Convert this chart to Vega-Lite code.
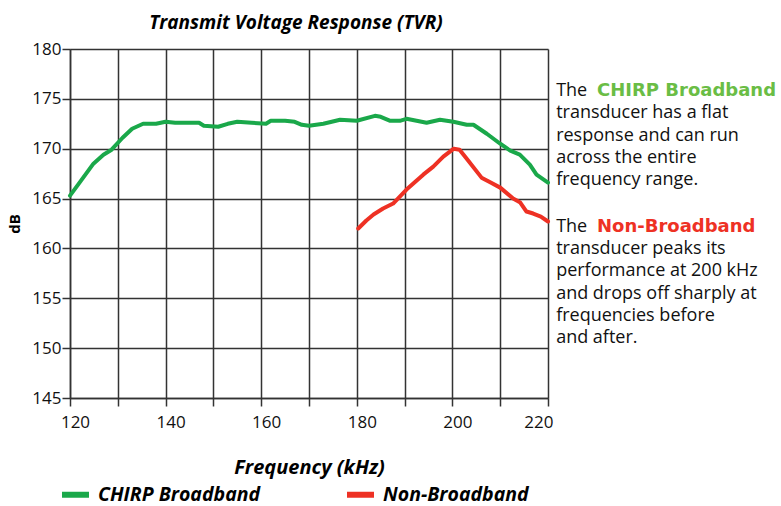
{
  "$schema": "https://vega.github.io/schema/vega-lite/v6.json",
  "width": 478,
  "height": 349,
  "autosize": {"type": "none"},
  "padding": {"left": 70, "top": 49, "right": 233, "bottom": 108},
  "background": "white",
  "config": {
    "font": "Open Sans",
    "view": {"stroke": null},
    "axis": {
      "gridColor": "#333333",
      "gridWidth": 1.5,
      "gridOpacity": 1,
      "domainColor": "#333333",
      "domainWidth": 1.5,
      "tickColor": "#333333",
      "tickWidth": 1.5,
      "tickSize": 8,
      "labelColor": "#111111",
      "labelFontSize": 17,
      "labelFont": "Open Sans",
      "titleColor": "#000000",
      "titleFont": "Open Sans"
    }
  },
  "title": {
    "text": "Transmit Voltage Response (TVR)",
    "fontSize": 19,
    "fontWeight": "bold",
    "fontStyle": "italic",
    "font": "Open Sans",
    "color": "#000000",
    "anchor": "middle",
    "offset": 7,
    "dx": -13
  },
  "datasets": {
    "curves": [
      {"f": 120, "db": 165.3, "series": "CHIRP Broadband"},
      {"f": 122, "db": 166.6, "series": "CHIRP Broadband"},
      {"f": 124.9, "db": 168.5, "series": "CHIRP Broadband"},
      {"f": 127, "db": 169.4, "series": "CHIRP Broadband"},
      {"f": 128.7, "db": 169.9, "series": "CHIRP Broadband"},
      {"f": 131, "db": 171.1, "series": "CHIRP Broadband"},
      {"f": 133, "db": 172.0, "series": "CHIRP Broadband"},
      {"f": 135.3, "db": 172.5, "series": "CHIRP Broadband"},
      {"f": 138, "db": 172.5, "series": "CHIRP Broadband"},
      {"f": 140, "db": 172.7, "series": "CHIRP Broadband"},
      {"f": 142, "db": 172.6, "series": "CHIRP Broadband"},
      {"f": 145, "db": 172.6, "series": "CHIRP Broadband"},
      {"f": 147, "db": 172.6, "series": "CHIRP Broadband"},
      {"f": 148, "db": 172.3, "series": "CHIRP Broadband"},
      {"f": 151, "db": 172.2, "series": "CHIRP Broadband"},
      {"f": 153, "db": 172.5, "series": "CHIRP Broadband"},
      {"f": 155, "db": 172.7, "series": "CHIRP Broadband"},
      {"f": 158, "db": 172.6, "series": "CHIRP Broadband"},
      {"f": 161, "db": 172.5, "series": "CHIRP Broadband"},
      {"f": 162, "db": 172.8, "series": "CHIRP Broadband"},
      {"f": 165, "db": 172.8, "series": "CHIRP Broadband"},
      {"f": 167, "db": 172.7, "series": "CHIRP Broadband"},
      {"f": 168.5, "db": 172.4, "series": "CHIRP Broadband"},
      {"f": 170, "db": 172.3, "series": "CHIRP Broadband"},
      {"f": 173, "db": 172.5, "series": "CHIRP Broadband"},
      {"f": 176.5, "db": 172.9, "series": "CHIRP Broadband"},
      {"f": 180, "db": 172.8, "series": "CHIRP Broadband"},
      {"f": 183.8, "db": 173.3, "series": "CHIRP Broadband"},
      {"f": 185, "db": 173.2, "series": "CHIRP Broadband"},
      {"f": 187, "db": 172.8, "series": "CHIRP Broadband"},
      {"f": 189, "db": 172.8, "series": "CHIRP Broadband"},
      {"f": 190.4, "db": 173.0, "series": "CHIRP Broadband"},
      {"f": 192.5, "db": 172.8, "series": "CHIRP Broadband"},
      {"f": 194.6, "db": 172.6, "series": "CHIRP Broadband"},
      {"f": 197.4, "db": 172.9, "series": "CHIRP Broadband"},
      {"f": 200.2, "db": 172.7, "series": "CHIRP Broadband"},
      {"f": 203, "db": 172.4, "series": "CHIRP Broadband"},
      {"f": 204.4, "db": 172.4, "series": "CHIRP Broadband"},
      {"f": 207.2, "db": 171.5, "series": "CHIRP Broadband"},
      {"f": 210, "db": 170.5, "series": "CHIRP Broadband"},
      {"f": 212.1, "db": 169.8, "series": "CHIRP Broadband"},
      {"f": 214.1, "db": 169.4, "series": "CHIRP Broadband"},
      {"f": 216.2, "db": 168.4, "series": "CHIRP Broadband"},
      {"f": 217.6, "db": 167.4, "series": "CHIRP Broadband"},
      {"f": 220, "db": 166.6, "series": "CHIRP Broadband"},
      {"f": 180.3, "db": 162.0, "series": "Non-Broadband"},
      {"f": 182, "db": 162.8, "series": "Non-Broadband"},
      {"f": 183.5, "db": 163.4, "series": "Non-Broadband"},
      {"f": 185.5, "db": 164.0, "series": "Non-Broadband"},
      {"f": 187.6, "db": 164.5, "series": "Non-Broadband"},
      {"f": 190.4, "db": 165.9, "series": "Non-Broadband"},
      {"f": 193.9, "db": 167.4, "series": "Non-Broadband"},
      {"f": 196, "db": 168.2, "series": "Non-Broadband"},
      {"f": 198.1, "db": 169.2, "series": "Non-Broadband"},
      {"f": 200.3, "db": 170.0, "series": "Non-Broadband"},
      {"f": 201.5, "db": 169.9, "series": "Non-Broadband"},
      {"f": 203, "db": 169.0, "series": "Non-Broadband"},
      {"f": 206.1, "db": 167.1, "series": "Non-Broadband"},
      {"f": 208, "db": 166.6, "series": "Non-Broadband"},
      {"f": 210, "db": 166.1, "series": "Non-Broadband"},
      {"f": 212.7, "db": 165.0, "series": "Non-Broadband"},
      {"f": 214.2, "db": 164.6, "series": "Non-Broadband"},
      {"f": 215.5, "db": 163.7, "series": "Non-Broadband"},
      {"f": 216.9, "db": 163.5, "series": "Non-Broadband"},
      {"f": 218.5, "db": 163.2, "series": "Non-Broadband"},
      {"f": 220, "db": 162.7, "series": "Non-Broadband"}
    ],
    "notes": [
      {"f": 221.7, "db": 175.79, "text": "The", "kind": "plain"},
      {"f": 230.25, "db": 175.79, "text": "CHIRP Broadband", "kind": "chirp"},
      {"f": 221.7, "db": 173.58, "text": "transducer has a flat", "kind": "plain"},
      {"f": 221.7, "db": 171.27, "text": "response and can run", "kind": "plain"},
      {"f": 221.7, "db": 169.07, "text": "across the entire", "kind": "plain"},
      {"f": 221.7, "db": 166.86, "text": "frequency range.", "kind": "plain"},
      {"f": 221.7, "db": 162.15, "text": "The", "kind": "plain"},
      {"f": 230.25, "db": 162.15, "text": "Non-Broadband", "kind": "non"},
      {"f": 221.7, "db": 159.94, "text": "transducer peaks its", "kind": "plain"},
      {"f": 221.7, "db": 157.73, "text": "performance at 200 kHz", "kind": "plain"},
      {"f": 221.7, "db": 155.43, "text": "and drops off sharply at", "kind": "plain"},
      {"f": 221.7, "db": 153.22, "text": "frequencies before", "kind": "plain"},
      {"f": 221.7, "db": 151.01, "text": "and after.", "kind": "plain"}
    ]
  },
  "layer": [
    {
      "data": {"name": "curves"},
      "mark": {"type": "line", "strokeWidth": 4, "strokeJoin": "round", "strokeCap": "round"},
      "encoding": {
        "x": {
          "field": "f",
          "type": "quantitative",
          "scale": {"domain": [120, 220], "nice": false, "zero": false},
          "axis": {
            "values": [120, 130, 140, 150, 160, 170, 180, 190, 200, 210, 220],
            "labelExpr": "datum.value % 20 == 0 ? datum.label : ''",
            "labelFlush": false,
            "labelOffset": 5,
            "labelAlign": {"condition": {"test": "datum.value == 220", "value": "right"}, "value": "center"},
            "labelPadding": 8,
            "title": "Frequency (kHz)",
            "titleFontSize": 20,
            "titleFontWeight": "bold",
            "titleFontStyle": "italic",
            "titlePadding": 27
          }
        },
        "y": {
          "field": "db",
          "type": "quantitative",
          "scale": {"domain": [145, 180], "nice": false, "zero": false},
          "axis": {
            "values": [145, 150, 155, 160, 165, 170, 175, 180],
            "labelPadding": 1,
            "title": "dB",
            "titleFontSize": 15,
            "titleFontWeight": "bold",
            "titlePadding": 9
          }
        },
        "color": {
          "field": "series",
          "type": "nominal",
          "scale": {"domain": ["CHIRP Broadband", "Non-Broadband"], "range": ["#1aa84a", "#ee3124"]},
          "legend": {
            "title": null,
            "orient": "none",
            "direction": "horizontal",
            "legendX": -11,
            "legendY": 429,
            "columnPadding": 74,
            "symbolType": "stroke",
            "symbolSize": 729,
            "symbolStrokeWidth": 6,
            "labelFont": "Open Sans",
            "labelFontSize": 19.5,
            "labelFontWeight": "bold",
            "labelFontStyle": "italic",
            "labelColor": "#000000",
            "labelOffset": 6,
            "labelLimit": 300
          }
        }
      }
    },
    {
      "data": {"name": "notes"},
      "transform": [{"filter": "datum.kind == 'plain'"}],
      "mark": {"type": "text", "align": "left", "baseline": "middle", "fontSize": 18, "color": "#111111"},
      "encoding": {
        "x": {"field": "f", "type": "quantitative"},
        "y": {"field": "db", "type": "quantitative"},
        "text": {"field": "text"}
      }
    },
    {
      "data": {"name": "notes"},
      "transform": [{"filter": "datum.kind == 'chirp'"}],
      "mark": {"type": "text", "align": "left", "baseline": "middle", "fontSize": 18, "font": "DejaVu Sans", "fontWeight": "bold", "color": "#6abd45"},
      "encoding": {
        "x": {"field": "f", "type": "quantitative"},
        "y": {"field": "db", "type": "quantitative"},
        "text": {"field": "text"}
      }
    },
    {
      "data": {"name": "notes"},
      "transform": [{"filter": "datum.kind == 'non'"}],
      "mark": {"type": "text", "align": "left", "baseline": "middle", "fontSize": 18, "font": "DejaVu Sans", "fontWeight": "bold", "color": "#ee3124"},
      "encoding": {
        "x": {"field": "f", "type": "quantitative"},
        "y": {"field": "db", "type": "quantitative"},
        "text": {"field": "text"}
      }
    }
  ]
}
